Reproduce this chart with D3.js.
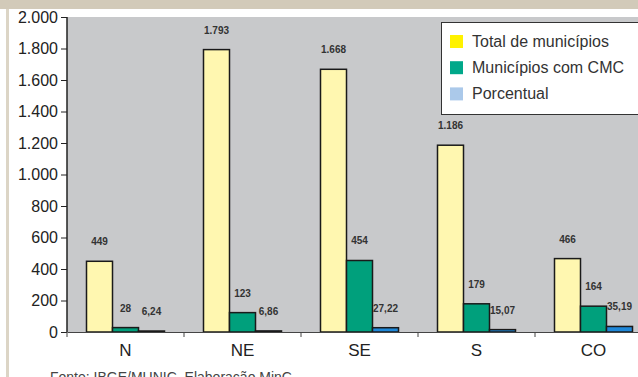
<!DOCTYPE html>
<html>
<head>
<meta charset="utf-8">
<script src="https://cdn.jsdelivr.net/npm/d3@7"></script>
<style>
  body { margin: 0; background: #fff; }
  svg { display: block; font-family: "Liberation Sans", Arial, sans-serif; }
</style>
</head>
<body>
<div id="chart"></div>
<script>
// Regions and values
const regions = ["N", "NE", "SE", "S", "CO"];
const totalMunicipios = [449, 1793, 1668, 1186, 466];
const municipiosCMC = [28, 123, 454, 179, 164];
const porcentual = [6.24, 6.86, 27.22, 15.07, 35.19];
const yTicks = [0, 200, 400, 600, 800, 1000, 1200, 1400, 1600, 1800, 2000];
const seriesNames = ["Total de municípios", "Municípios com CMC", "Porcentual"];

const barColors = ["#fff7b0", "#00a07c", "#1f88d9"];
const legendColors = ["#fff200", "#00a88a", "#abc9ea"];

const width = 638, height = 377;
const margin = { top: 17, left: 67, bottom: 332 };
const plotRight = 652; // plot runs past the picture edge

const svg = d3.select("#chart").append("svg")
    .attr("width", width)
    .attr("height", height);

// frame bits
svg.append("rect").attr("x", 0).attr("y", 0).attr("width", width).attr("height", 9).attr("fill", "#d2cab9");
svg.append("rect").attr("x", 6).attr("y", 9).attr("width", 3).attr("height", height).attr("fill", "#dcd5c6");

const x0 = d3.scaleBand()
    .domain(regions)
    .range([margin.left, plotRight])
    .paddingInner(0)
    .paddingOuter(0);

const x1 = d3.scaleBand()
    .domain([0, 1, 2])
    .range([0, x0.bandwidth()])
    .paddingInner(0)
    .paddingOuter(0.75);

const y = d3.scaleLinear()
    .domain([0, 2000])
    .range([margin.bottom, margin.top]);

// plot background
svg.append("rect")
    .attr("x", margin.left).attr("y", margin.top)
    .attr("width", plotRight - margin.left)
    .attr("height", margin.bottom - margin.top)
    .attr("fill", "#c8c9cb");

const rows = regions.map((r, i) => ({
    region: r,
    values: [totalMunicipios[i], municipiosCMC[i], porcentual[i]]
}));

const fmt = v => Number.isInteger(v)
    ? d3.format(",")(v).replace(/,/g, ".")
    : v.toFixed(2).replace(".", ",");

const groups = svg.append("g")
    .selectAll("g")
    .data(rows)
    .enter().append("g")
    .attr("transform", d => `translate(${x0(d.region)},0)`);

groups.selectAll("rect")
    .data(d => d.values.map((v, k) => ({ v, k })))
    .enter().append("rect")
    .attr("x", d => x1(d.k))
    .attr("y", d => y(d.v))
    .attr("width", x1.bandwidth())
    .attr("height", d => y(0) - y(d.v))
    .attr("fill", d => barColors[d.k])
    .attr("stroke", "#1a1a1a")
    .attr("stroke-width", 1.5);

groups.selectAll("text")
    .data(d => d.values.map((v, k) => ({ v, k })))
    .enter().append("text")
    .attr("x", d => x1(d.k) + x1.bandwidth() / 2)
    .attr("y", d => y(d.v) - 16)
    .attr("text-anchor", "middle")
    .attr("font-size", 10)
    .attr("font-weight", "bold")
    .attr("fill", "#333")
    .text(d => fmt(d.v));

// y axis
const yAxis = svg.append("g")
    .attr("transform", `translate(${margin.left},0)`)
    .call(d3.axisLeft(y).tickValues(yTicks).tickSize(6).tickPadding(3)
        .tickFormat(d => d3.format(",")(d).replace(/,/g, ".")));
yAxis.select(".domain").attr("stroke", "#222").attr("stroke-width", 1.5).attr("d", `M0,${margin.top}V${margin.bottom}`);
yAxis.selectAll(".tick line").attr("stroke", "#222");
yAxis.selectAll(".tick text").attr("font-size", 16).attr("fill", "#222").attr("font-family", "Liberation Sans, Arial, sans-serif");

// x axis
const xAxis = svg.append("g")
    .attr("transform", `translate(0,${margin.bottom})`)
    .call(d3.axisBottom(x0).tickSize(0).tickPadding(12));
xAxis.select(".domain").attr("stroke", "#444").attr("stroke-width", 1.2);
xAxis.selectAll(".tick text").attr("font-size", 17).attr("fill", "#222").attr("font-family", "Liberation Sans, Arial, sans-serif");
xAxis.selectAll(".sep")
    .data(regions)
    .enter().append("line")
    .attr("x1", d => x0(d)).attr("x2", d => x0(d))
    .attr("y1", 0).attr("y2", 5)
    .attr("stroke", "#444");

// legend
const legend = svg.append("g");
legend.append("rect")
    .attr("x", 441.5).attr("y", 22.5)
    .attr("width", 220).attr("height", 92)
    .attr("fill", "#fff").attr("stroke", "#333");
seriesNames.forEach((name, i) => {
    const cy = 41.5 + i * 26.2;
    legend.append("rect")
        .attr("x", 450).attr("y", cy - 6.5)
        .attr("width", 13).attr("height", 13)
        .attr("fill", legendColors[i]);
    legend.append("text")
        .attr("x", 472).attr("y", cy + 5.5)
        .attr("font-size", 16).attr("fill", "#333")
        .text(name);
});

// source note (cut by picture edge, as in the original)
svg.append("text")
    .attr("x", 50).attr("y", 382)
    .attr("font-size", 14).attr("fill", "#444")
    .text("Fonte: IBGE/MUNIC. Elaboração MinC");
</script>
</body>
</html>
